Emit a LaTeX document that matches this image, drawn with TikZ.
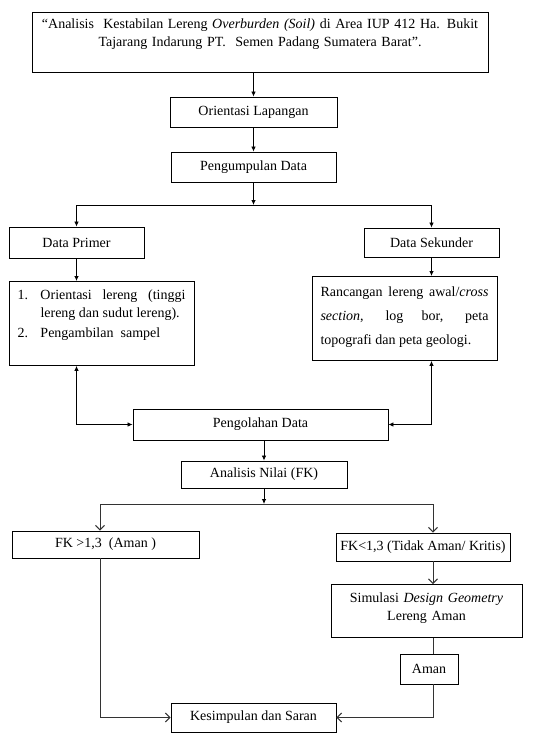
\documentclass[tikz,border=0pt]{standalone}
\usepackage{fontspec}
\setmainfont{Liberation Serif}
\usetikzlibrary{arrows.meta,calc}
\tikzset{
	procbox/.style={rectangle, draw=black, line width=0.9pt, align=center,
		font=\fontsize{14}{18}\selectfont, inner xsep=3pt, inner ysep=3pt},
	procarr/.style={-{Latex[length=5pt,width=4.5pt]}, line width=0.8pt},
	duoarr/.style={{Latex[length=5pt,width=4.5pt]}-{Latex[length=5pt,width=4.5pt]}, line width=0.8pt},
	openarr/.style={-{Straight Barb[length=4.5pt,width=9pt]}, line width=1pt, draw=black!80}
}

\begin{document}
\begin{tikzpicture}[x=1pt, y=-1pt,
		listbox/.style={procbox, align=justify, text width=168pt, inner xsep=8.5pt, anchor=north}
	]
	\useasboundingbox (0,0) rectangle (537,733);
	% main column
	\node[procbox, anchor=north, text width=450pt, text height=13pt, text depth=41pt] (title) at (260,12)
		{“Analisis~ Kestabilan Lereng \textit{Overburden (Soil)} di Area IUP 412 Ha. Bukit\\
		Tajarang Indarung PT.~ Semen Padang Sumatera Barat”.\hspace*{58pt}};
	\node[procbox, minimum width=167pt, minimum height=30pt] (ori) at (253.5,112) {Orientasi Lapangan};
	\node[procbox, minimum width=165pt, minimum height=30pt] (kumpul) at (253.5,167) {Pengumpulan Data};
	\node[procbox, minimum width=135pt, minimum height=31pt] (primer) at (76.5,242.5) {Data Primer};
	\node[procbox, minimum width=135pt, minimum height=29pt] (sekunder) at (431.5,242.5) {Data Sekunder};
	\node[listbox, text height=15pt, text depth=63pt] (metode) at (101.5,281)
		{\hangindent=23pt\makebox[23pt][l]{1.}Orientasi lereng (tinggi\linebreak lereng dan sudut lereng).\par
		\vspace{2pt}\makebox[23pt][l]{2.}Pengambilan~ sampel};
	\node[listbox, text height=17pt, text depth=61pt, font=\fontsize{14}{24}\selectfont] (rancang) at (404.5,276)
		{Rancangan lereng awal/\textit{cross}\linebreak \textit{section}, log bor, peta\linebreak topografi dan peta geologi.};
	\node[procbox, minimum width=255pt, minimum height=31pt] (olah) at (260.5,424.5) {Pengolahan Data};
	\node[procbox, minimum width=166pt, minimum height=27pt] (nilai) at (264,474.5) {Analisis Nilai (FK)};
	\node[procbox, minimum width=187pt, minimum height=27pt] (aman) at (105.5,544.5) {FK >1,3~~(Aman )};
	\node[procbox, minimum width=174pt, minimum height=28pt, inner xsep=1pt] (kritis) at (423,547) {FK<1,3 (Tidak Aman/ Kritis)};
	\node[procbox, anchor=north, text width=185pt, text height=15pt, text depth=32pt] (simulasi) at (426.5,584)
		{Simulasi \textit{Design Geometry}\\Lereng Aman};
	\node[procbox, minimum width=58pt, minimum height=30pt] (aman2) at (429,669) {Aman};
	\node[procbox, minimum width=165pt, minimum height=29pt] (simpul) at (253.5,717.5) {Kesimpulan dan Saran};
	% branch points
	\coordinate (pisah1) at (253.5,205);
	\coordinate (pisah2) at (264,504);
	\coordinate (kiri) at (100,0);
	\coordinate (kanan) at (433,0);
	% connectors
	\draw[procarr] (ori.north |- title.south) -- (ori.north);
	\draw[procarr] (ori) -- (kumpul);
	\draw[procarr] (kumpul) -- (pisah1);
	\draw[procarr] (pisah1) -| (primer);
	\draw[procarr] (pisah1) -| (sekunder);
	\draw[procarr] (primer) -- (primer |- metode.north);
	\draw[procarr] (sekunder) -- (sekunder |- rancang.north);
	\draw[duoarr] (primer |- metode.south) |- (olah);
	\draw[duoarr] (sekunder |- rancang.south) |- (olah);
	\draw[procarr] (nilai |- olah.south) -- (nilai);
	\draw[procarr] (nilai) -- (pisah2);
	\draw[openarr] (pisah2) -| (kiri |- aman.north);
	\draw[openarr] (pisah2) -| (kanan |- kritis.north);
	\draw[openarr] (kanan |- kritis.south) -- (kanan |- simulasi.north);
	\draw[line width=1pt, draw=black!80] (kanan |- simulasi.south) -- (kanan |- aman2.north);
	\draw[openarr] (kiri |- aman.south) |- (simpul);
	\draw[openarr] (kanan |- aman2.south) |- (simpul);
\end{tikzpicture}
\end{document}
